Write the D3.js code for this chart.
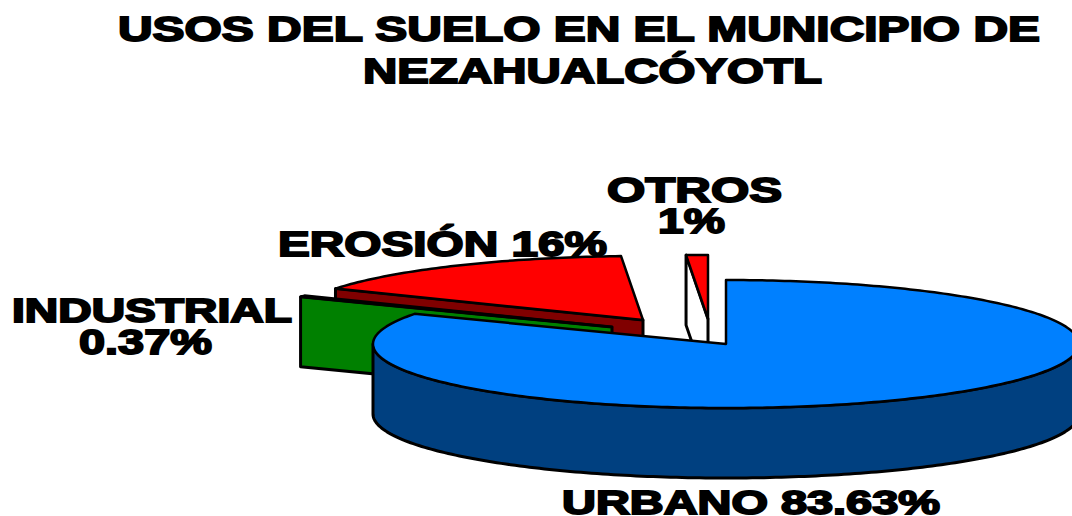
<!DOCTYPE html>
<html>
<head>
<meta charset="utf-8">
<script src="https://cdn.jsdelivr.net/npm/d3@7"></script>
<style>
  html, body { margin: 0; padding: 0; background: #fff; overflow: hidden; }
  svg { display: block; }
  text { font-family: "Liberation Sans", Arial, sans-serif; font-weight: bold; fill: #000; stroke: #000; stroke-width: 1.8; }
</style>
</head>
<body>
<div id="general"></div>
<script>
// values as labelled on the chart, clockwise from 12 o'clock
const categories = ["URBANO", "INDUSTRIAL", "EROSIÓN", "OTROS"];
const values = [83.63, 0.37, 16, 1];
const titleLines = ["USOS DEL SUELO EN EL MUNICIPIO DE", "NEZAHUALCÓYOTL"];

const w = 1072, h = 516;
const center = { x: 725, y: 345 };
const rx = 353, ry = 64, depth = 70;

// where each slice was pulled out to, and its colours
const explode = {
  "URBANO": { dx: 1, dy: -1 },
  "INDUSTRIAL": { dx: -113, dy: -18 },
  "EROSIÓN": { dx: -82, dy: -25 },
  "OTROS": { dx: -17, dy: -26 }
};
const topColor = { "URBANO": "#0080ff", "INDUSTRIAL": "#00a000", "EROSIÓN": "#ff0000", "OTROS": "#ff0000" };
const wallColor = { "URBANO": "#004080", "INDUSTRIAL": "#008000", "EROSIÓN": "#800000", "OTROS": "#ffffff" };

// text boxes: left, right, baseline
const labels = [
  { text: titleLines[0], x0: 118, x1: 1040, y: 41, size: 35 },
  { text: titleLines[1], x0: 363, x1: 822, y: 83, size: 35 },
  { text: "OTROS", x0: 607, x1: 782, y: 202, size: 35 },
  { text: "1%", x0: 658, x1: 725, y: 233, size: 35 },
  { text: "EROSIÓN 16%", x0: 278, x1: 607, y: 256, size: 35 },
  { text: "INDUSTRIAL", x0: 12, x1: 292, y: 322, size: 33 },
  { text: "0.37%", x0: 79, x1: 212, y: 354, size: 35 },
  { text: "URBANO 83.63%", x0: 562, x1: 940, y: 514, size: 33 }
];

const pie = d3.pie().sort(null).value(d => d.value);
const slices = pie(categories.map((name, i) => ({ name, value: values[i] })));
const byName = name => slices.find(s => s.data.name === name);

const svg = d3.select("#general").append("svg").attr("width", w).attr("height", h).attr("viewBox", `0 0 ${w} ${h}`);
const line = d3.line();

function rim(s, a) {
  const o = explode[s.data.name];
  return [center.x + o.dx + rx * Math.sin(a), center.y + o.dy - ry * Math.cos(a)];
}
function apex(s) {
  const o = explode[s.data.name];
  return [center.x + o.dx, center.y + o.dy];
}
function arcPoints(s, a0, a1) {
  const n = Math.max(2, Math.ceil((a1 - a0) * 60));
  return d3.range(n + 1).map(i => rim(s, a0 + (a1 - a0) * i / n));
}
function down(points) {
  return points.map(p => [p[0], p[1] + depth]).reverse();
}

function drawSlice(name, showCut, showFront) {
  const s = byName(name);
  const g = svg.append("g");
  const color = wallColor[name];
  if (showCut) {
    // cut face on the counter-clockwise side, the one facing the viewer
    const edge = [rim(s, s.startAngle), apex(s)];
    g.append("path").attr("d", line(edge.concat(down(edge))) + "Z")
      .attr("fill", color).attr("stroke", "#000").attr("stroke-width", 3).attr("stroke-linejoin", "round");
  }
  if (showFront) {
    const front = arcPoints(s, Math.PI / 2, 3 * Math.PI / 2);
    g.append("path").attr("d", line(front.concat(down(front))) + "Z")
      .attr("fill", color).attr("stroke", "#000").attr("stroke-width", 3).attr("stroke-linejoin", "round");
  }
  const top = [apex(s)].concat(arcPoints(s, s.startAngle, s.endAngle));
  g.append("path").attr("d", line(top) + "Z")
    .attr("fill", topColor[name]).attr("stroke", "#000").attr("stroke-width", 2.5).attr("stroke-linejoin", "round");
}

// back to front
drawSlice("EROSIÓN", true, false);
drawSlice("OTROS", true, false);
drawSlice("INDUSTRIAL", true, false);
drawSlice("URBANO", false, true);

svg.append("g").selectAll("text")
  .data(labels)
  .join("text")
    .attr("x", d => d.x0)
    .attr("y", d => d.y)
    .attr("font-size", d => d.size)
    .attr("textLength", d => d.x1 - d.x0)
    .attr("lengthAdjust", "spacingAndGlyphs")
    .text(d => d.text);
</script>
</body>
</html>
